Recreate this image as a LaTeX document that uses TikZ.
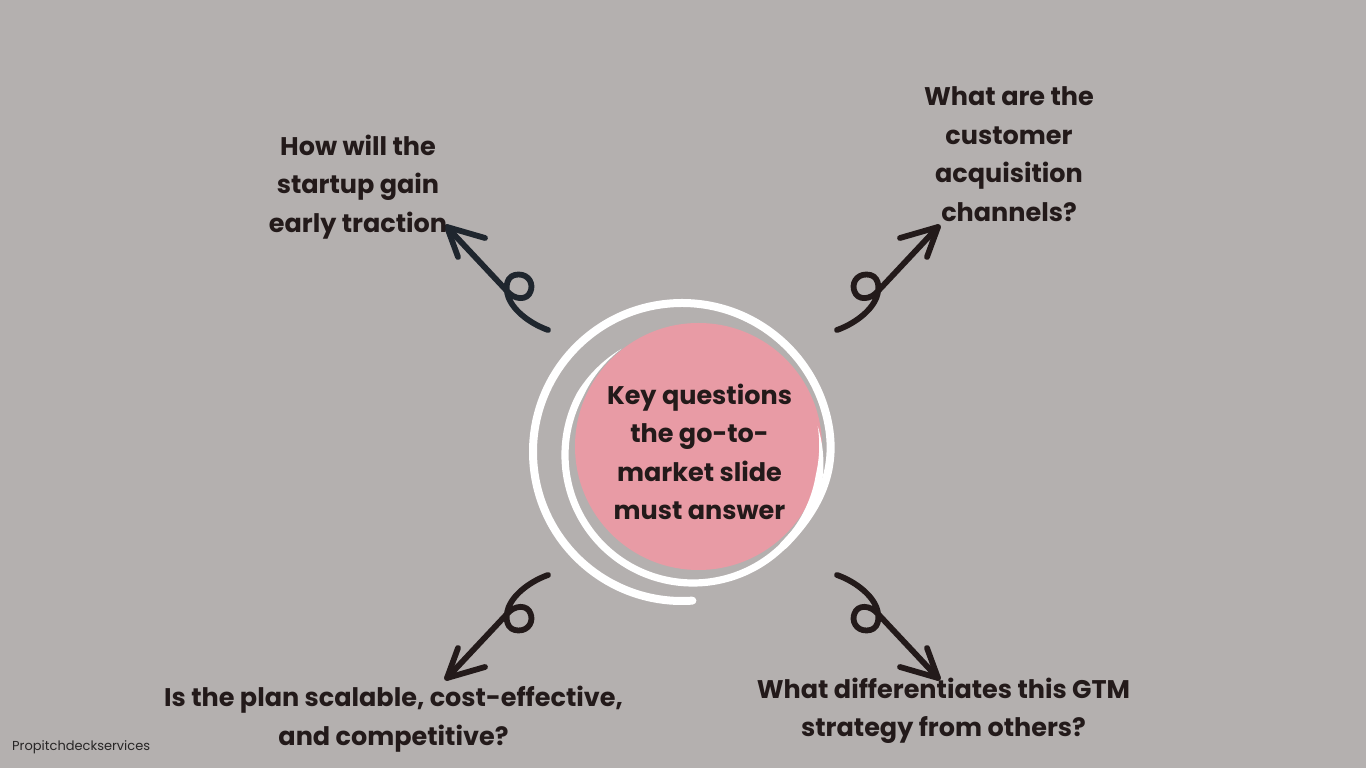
\documentclass[tikz,border=0pt]{standalone}
\usepackage{fontspec}
\setmainfont{Poppins}
\definecolor{bg}{RGB}{180,176,175}
\definecolor{pinkc}{RGB}{232,155,165}
\definecolor{inkc}{RGB}{35,26,26}
\definecolor{slatec}{RGB}{31,38,46}
\definecolor{footc}{RGB}{40,38,38}
\newcommand\gtmArrowShape{%
    \draw[arrowline] (144.5,122.5) .. controls (160,128) and (178,140) .. (184,155)
      .. controls (188,166) and (186,178) .. (174,178)
      .. controls (163,178) and (159,168) .. (162,161)
      .. controls (165,152) and (178,152) .. (186,162) -- (245.5,225.5);
    \draw[arrowline] (207.5,214.5) -- (245.5,225.5) -- (234.5,195.5);
}
\begin{document}
\begin{tikzpicture}[x=1pt,y=1pt,
  declare function={tap(\t)=3.6*min(1,(\t-124)/28,(373-\t)/22);},
  arrowline/.style={line width=5.8pt,line cap=round,line join=round},
  qtext/.style={text=inkc,align=center,font=\fontsize{25.5}{38.5}\selectfont\bfseries}]
\useasboundingbox (0,0) rectangle (1366,768);
\fill[bg] (0,0) rectangle (1366,768);

% central circle
\fill[pinkc] (698.5,321.5) circle (123.5);
% inner tapered arc
\fill[white] plot[domain=124:373,samples=140] ({693+(128+tap(\x))*cos(\x)},{313+(128+tap(\x))*sin(\x)})
  -- plot[domain=373:124,samples=140] ({693+(128-tap(\x))*cos(\x)},{313+(128-tap(\x))*sin(\x)}) -- cycle;
% outer arc spiralling in
\draw[white,line width=8pt,line cap=round] (682,316) ++(-86:149) arc[start angle=-86,end angle=-350,radius=149]
  .. controls (837.4,292.7) and (815.3,254.3) .. (783.5,222.5);

\node[qtext] (center) at (699.5,316) {Key questions\\the go-to-\\market slide\\must answer};

% arrows (one shape, mirrored into the four corners)
\begin{scope}[shift={(692.5,315.5)},color=inkc]
  \gtmArrowShape
\end{scope}
\begin{scope}[shift={(692.5,315.5)},xscale=-1,color=slatec]
  \gtmArrowShape
\end{scope}
\begin{scope}[shift={(692.5,315.5)},xscale=-1,yscale=-1,color=inkc]
  \gtmArrowShape
\end{scope}
\begin{scope}[shift={(692.5,315.5)},yscale=-1,color=inkc]
  \gtmArrowShape
\end{scope}

\node[qtext] (qtl) at (358,581) {How will the\\startup gain\\early traction};
\node[qtext] (qtr) at (1009,614) {What are the\\customer\\acquisition\\channels?};
\node[qtext] (qbl) at (393.5,49) {Is the plan scalable, cost-effective,\\and competitive?};
\node[qtext] (qbr) at (943.5,57) {What differentiates this GTM\\strategy from others?};

\node[anchor=west,text=footc,font=\fontsize{13}{15}\selectfont,inner sep=0pt] (foot) at (12,21) {Propitchdeckservices};
\end{tikzpicture}
\end{document}
